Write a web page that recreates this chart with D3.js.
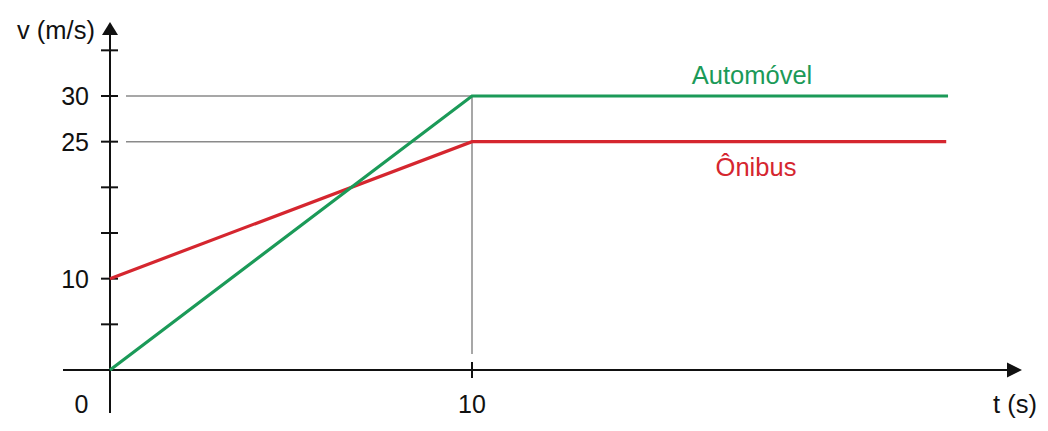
<!DOCTYPE html>
<html>
<head>
<meta charset="utf-8">
<script src="https://cdn.jsdelivr.net/npm/d3@7"></script>
<style>
html,body{margin:0;padding:0;background:#fff;}
svg{display:block;}
text{font-family:"Liberation Sans",Arial,sans-serif;}
</style>
</head>
<body>
<svg id="chart" width="1048" height="431"></svg>
<script>
// Data
const automovelT = [0, 10, 23.15];
const automovelV = [0, 30, 30];
const onibusT = [0, 10, 23.1];
const onibusV = [10, 25, 25];
const yTickValues = [5, 10, 15, 20, 25, 30, 35];
const yTickLabels = [10, 25, 30];
const xTickValues = [10];
const guideValues = [25, 30];
const guideT = 10;
const seriesNames = ["Automóvel", "Ônibus"];

const svg = d3.select("#chart");
const x = d3.scaleLinear().domain([0, 10]).range([110, 472]);
const y = d3.scaleLinear().domain([0, 30]).range([370, 96]);

const axisColor = "#111";
const gridColor = "#8a8a8a";
const green = "#1b9a58";
const red = "#d5262f";

// guide lines
guideValues.forEach(v => {
  svg.append("line")
    .attr("x1", x(0) + 16).attr("x2", x(guideT))
    .attr("y1", y(v)).attr("y2", y(v))
    .attr("stroke", gridColor).attr("stroke-width", 1.5);
});
svg.append("line")
  .attr("x1", x(guideT)).attr("x2", x(guideT))
  .attr("y1", y(30)).attr("y2", y(0) - 16)
  .attr("stroke", gridColor).attr("stroke-width", 1.5);

// axes
svg.append("line")
  .attr("x1", x(0)).attr("x2", x(0))
  .attr("y1", y(0) + 43).attr("y2", 32)
  .attr("stroke", axisColor).attr("stroke-width", 2);
svg.append("path")
  .attr("d", `M${x(0)},22 L${x(0) - 8},35 L${x(0) + 8},35 Z`)
  .attr("fill", axisColor);
svg.append("line")
  .attr("x1", 63).attr("x2", 1010)
  .attr("y1", y(0)).attr("y2", y(0))
  .attr("stroke", axisColor).attr("stroke-width", 2);
svg.append("path")
  .attr("d", `M1022,${y(0)} L1007,${y(0) - 7.5} L1007,${y(0) + 7.5} Z`)
  .attr("fill", axisColor);

// y ticks
svg.selectAll(".ytick").data(yTickValues).enter().append("line")
  .attr("x1", x(0) - 9).attr("x2", x(0) + 8)
  .attr("y1", d => y(d)).attr("y2", d => y(d))
  .attr("stroke", axisColor).attr("stroke-width", 2);
// x ticks
svg.selectAll(".xtick").data(xTickValues).enter().append("line")
  .attr("x1", d => x(d)).attr("x2", d => x(d))
  .attr("y1", y(0) - 8).attr("y2", y(0) + 8)
  .attr("stroke", axisColor).attr("stroke-width", 2);

// tick labels
svg.selectAll(".ylab").data(yTickLabels).enter().append("text")
  .attr("x", 89).attr("y", d => y(d) + 9)
  .attr("text-anchor", "end").attr("font-size", 25).attr("fill", "#111")
  .text(d => d);
svg.selectAll(".xlab").data(xTickValues).enter().append("text")
  .attr("x", d => x(d)).attr("y", 413)
  .attr("text-anchor", "middle").attr("font-size", 25).attr("fill", "#111")
  .text(d => d);
svg.append("text").attr("x", 81.5).attr("y", 413)
  .attr("text-anchor", "middle").attr("font-size", 25).attr("fill", "#111").text("0");

// axis titles
svg.append("text").attr("x", 17).attr("y", 39)
  .attr("font-size", 25.5).attr("fill", "#111").text("v (m/s)");
svg.append("text").attr("x", 993).attr("y", 413)
  .attr("font-size", 25.5).attr("fill", "#111").text("t (s)");

// series
const line = d3.line().x(d => x(d[0])).y(d => y(d[1]));
svg.append("path")
  .datum(d3.zip(onibusT, onibusV))
  .attr("d", line).attr("fill", "none")
  .attr("stroke", red).attr("stroke-width", 3.2);
svg.append("path")
  .datum(d3.zip(automovelT, automovelV))
  .attr("d", line).attr("fill", "none")
  .attr("stroke", green).attr("stroke-width", 3.2);

// series labels
svg.append("text").attr("x", 752).attr("y", 84)
  .attr("text-anchor", "middle").attr("font-size", 25.5).attr("fill", green)
  .text(seriesNames[0]);
svg.append("text").attr("x", 756).attr("y", 176)
  .attr("text-anchor", "middle").attr("font-size", 25.5).attr("fill", red)
  .text(seriesNames[1]);
</script>
</body>
</html>
